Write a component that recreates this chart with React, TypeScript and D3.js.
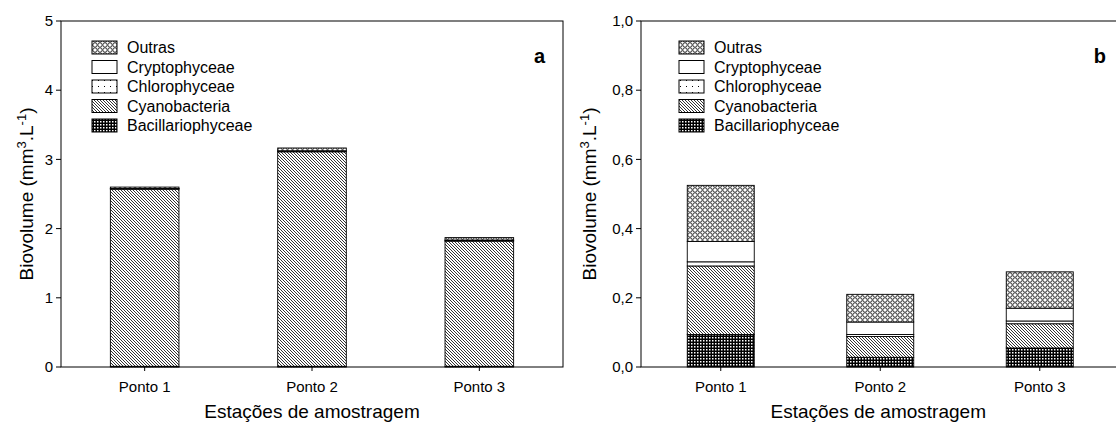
import React from "react";
import * as d3 from "d3";

const categories = ["Ponto 1", "Ponto 2", "Ponto 3"];
const groups = ["Bacillariophyceae", "Cyanobacteria", "Chlorophyceae", "Cryptophyceae", "Outras"];
const legendOrder = ["Outras", "Cryptophyceae", "Chlorophyceae", "Cyanobacteria", "Bacillariophyceae"];

// Panel a
const bacA = [0.01, 0.01, 0.01];
const cyanoA = [2.56, 3.1, 1.81];
const chloroA = [0.005, 0.005, 0.005];
const cryptoA = [0.005, 0.01, 0.01];
const outrasA = [0.02, 0.04, 0.035];
const ticksA = [0, 1, 2, 3, 4, 5];
const tickLabelsA = ["0", "1", "2", "3", "4", "5"];

// Panel b
const bacB = [0.094, 0.028, 0.055];
const cyanoB = [0.198, 0.06, 0.07];
const chloroB = [0.012, 0.006, 0.008];
const cryptoB = [0.059, 0.036, 0.037];
const outrasB = [0.162, 0.08, 0.105];
const ticksB = [0, 0.2, 0.4, 0.6, 0.8, 1.0];
const tickLabelsB = ["0,0", "0,2", "0,4", "0,6", "0,8", "1,0"];

const xTitle = "Estações de amostragem";
const FONT = "'Liberation Sans', Arial, sans-serif";

const fillFor: Record<string, string> = {
  Bacillariophyceae: "url(#pBac)",
  Cyanobacteria: "url(#pCyano)",
  Chlorophyceae: "url(#pChloro)",
  Cryptophyceae: "#ffffff",
  Outras: "url(#pOutras)",
};

function buildRows(series: number[][]) {
  return categories.map((c, i) => {
    const r: any = { cat: c };
    groups.forEach((g, j) => (r[g] = series[j][i]));
    return r;
  });
}

type PanelProps = {
  x0: number;
  x1: number;
  y0: number;
  y1: number;
  max: number;
  ticks: number[];
  tickLabels: string[];
  series: number[][];
  letter: string;
  letterX: number;
  legendX: number;
  labelX: number;
  pad: number;
};

function Panel(p: PanelProps) {
  const x = d3.scaleBand<string>().domain(categories).range([p.x0, p.x1]).paddingInner(p.pad).paddingOuter(p.pad / 2);
  const y = d3.scaleLinear().domain([0, p.max]).range([p.y1, p.y0]);
  const stack = d3.stack<any>().keys(groups)(buildRows(p.series));
  const midY = (p.y0 + p.y1) / 2;
  return (
    <g>
      {stack.map((layer) => (
        <g key={layer.key}>
          {layer.map((d, i) => (
            <rect
              key={i}
              x={x(categories[i])!}
              width={x.bandwidth()}
              y={y(d[1])}
              height={Math.max(0, y(d[0]) - y(d[1]))}
              fill={fillFor[layer.key]}
              stroke="#000"
              strokeWidth={0.9}
            />
          ))}
        </g>
      ))}
      <rect x={p.x0} y={p.y0} width={p.x1 - p.x0} height={p.y1 - p.y0} fill="none" stroke="#000" strokeWidth={1} />
      {p.ticks.map((t, i) => (
        <g key={i}>
          <line x1={p.x0 - 5} x2={p.x0} y1={y(t)} y2={y(t)} stroke="#000" />
          <text x={p.x0 - 8} y={y(t)} dy="0.35em" textAnchor="end" fontSize={15} fontFamily={FONT}>
            {p.tickLabels[i]}
          </text>
        </g>
      ))}
      {categories.map((c) => (
        <g key={c}>
          <line x1={x(c)! + x.bandwidth() / 2} x2={x(c)! + x.bandwidth() / 2} y1={p.y1} y2={p.y1 + 4} stroke="#000" />
          <text x={x(c)! + x.bandwidth() / 2} y={p.y1 + 25} textAnchor="middle" fontSize={15} fontFamily={FONT}>
            {c}
          </text>
        </g>
      ))}
      <text x={(p.x0 + p.x1) / 2 - (p.letter === "b" ? 2 : 0)} y={p.y1 + 51} textAnchor="middle" fontSize={19} fontFamily={FONT}>
        {xTitle}
      </text>
      <text transform={`translate(${p.labelX},${midY}) rotate(-90)`} textAnchor="middle" fontSize={19} fontFamily={FONT}>
        Biovolume (mm<tspan dy={-7} fontSize={13}>3</tspan>
        <tspan dy={7}>.L</tspan>
        <tspan dy={-7} fontSize={13}>-1</tspan>
        <tspan dy={7}>)</tspan>
      </text>
      <text x={p.letterX} y={p.y0 + 42} textAnchor="end" fontSize={20} fontWeight="bold" fontFamily={FONT}>
        {p.letter}
      </text>
      {legendOrder.map((g, i) => (
        <g key={g}>
          <rect x={p.legendX} y={p.y0 + 20 + i * 19.5} width={25} height={13} fill={fillFor[g]} stroke="#000" strokeWidth={1} />
          <text x={p.legendX + 35} y={p.y0 + 32 + i * 19.5} fontSize={16} fontFamily={FONT}>
            {g}
          </text>
        </g>
      ))}
    </g>
  );
}

export default function App() {
  return (
    <svg width={1116} height={425} style={{ position: "absolute", left: 0, top: 0, background: "#fff" }}>
      <defs>
        <pattern id="pCyano" patternUnits="userSpaceOnUse" width={3} height={3}>
          <rect width={3} height={3} fill="#fff" />
          <path d="M0,0 L3,3 M-1,2 L1,4 M2,-1 L4,1" stroke="#000" strokeWidth={0.8} />
        </pattern>
        <pattern id="pBac" patternUnits="userSpaceOnUse" width={3} height={3}>
          <rect width={3} height={3} fill="#000" />
          <rect x={1} y={1} width={1.5} height={1.5} fill="#fff" />
        </pattern>
        <pattern id="pChloro" patternUnits="userSpaceOnUse" width={6} height={6}>
          <rect width={6} height={6} fill="#fff" />
          <rect x={2} y={2} width={1} height={1} fill="#000" />
        </pattern>
        <pattern id="pOutras" patternUnits="userSpaceOnUse" width={5} height={5}>
          <rect width={5} height={5} fill="#fff" />
          <circle cx={2.5} cy={2.5} r={1.8} fill="none" stroke="#000" strokeWidth={0.9} />
        </pattern>
      </defs>
      <Panel
        x0={61}
        x1={563}
        y0={21}
        y1={367}
        max={5}
        ticks={ticksA}
        tickLabels={tickLabelsA}
        series={[bacA, cyanoA, chloroA, cryptoA, outrasA]}
        letter="a"
        letterX={545}
        legendX={92}
        labelX={33}
        pad={0.59}
      />
      <Panel
        x0={641}
        x1={1119.5}
        y0={21}
        y1={367}
        max={1}
        ticks={ticksB}
        tickLabels={tickLabelsB}
        series={[bacB, cyanoB, chloroB, cryptoB, outrasB]}
        letter="b"
        letterX={1106}
        legendX={679}
        labelX={596}
        pad={0.58}
      />
    </svg>
  );
}
